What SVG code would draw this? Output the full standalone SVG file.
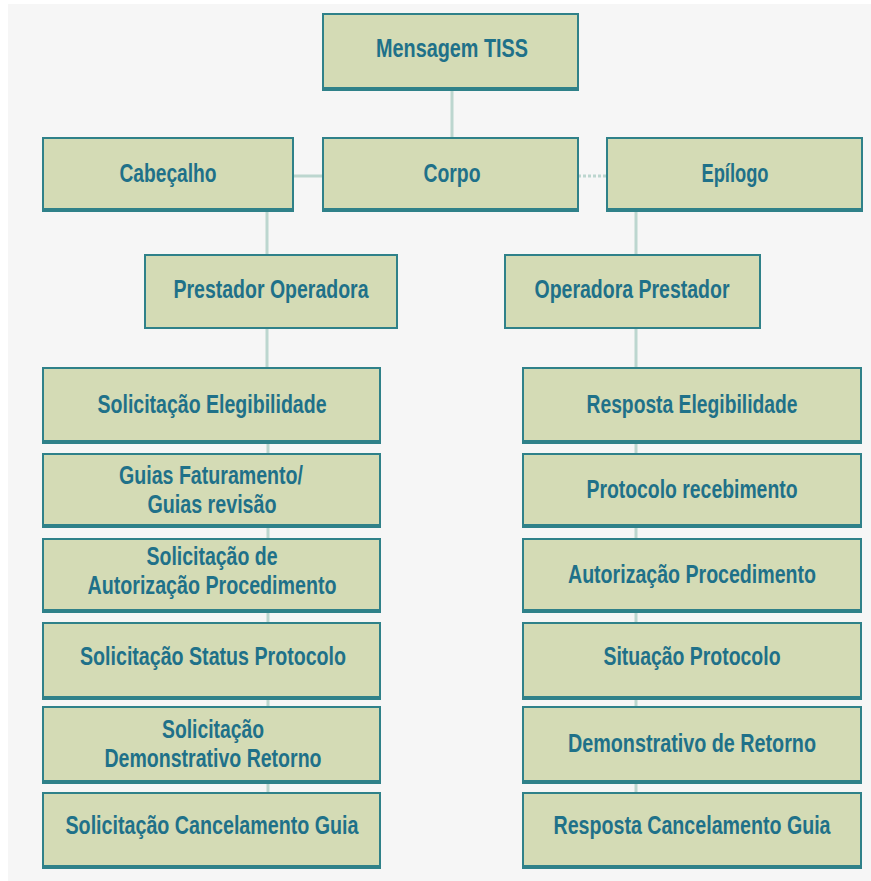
<svg xmlns="http://www.w3.org/2000/svg" width="871" height="881" viewBox="0 0 871 881">
<style>
.box{fill:#d4dbb5;stroke:#2f8189;stroke-width:2}
.sh{stroke:#2f8189;stroke-width:4}
.t{font-family:"Liberation Sans",Arial,sans-serif;font-size:25px;font-weight:bold;fill:#1f7189;text-anchor:middle}
.c{stroke:#bcd6cf;stroke-width:3;fill:none}
</style>
<rect x="0" y="0" width="871" height="881" fill="#ffffff"/>
<rect x="8" y="4" width="863" height="877" fill="#f6f6f6"/>
<g id="connectors">
<line class="c" x1="452" y1="90" x2="452" y2="138"/>
<line class="c" x1="293" y1="176" x2="323" y2="176"/>
<line class="c" x1="578" y1="176" x2="607" y2="176" stroke-dasharray="3 2"/>
<line class="c" x1="267" y1="211" x2="267" y2="255"/>
<line class="c" x1="636" y1="211" x2="636" y2="255"/>
<line class="c" x1="267" y1="328" x2="267" y2="368"/>
<line class="c" x1="636" y1="328" x2="636" y2="368"/>
<line class="c" x1="268" y1="443" x2="268" y2="454"/>
<line class="c" x1="268" y1="527" x2="268" y2="539"/>
<line class="c" x1="268" y1="612" x2="268" y2="623"/>
<line class="c" x1="268" y1="699" x2="268" y2="707"/>
<line class="c" x1="268" y1="783" x2="268" y2="793"/>
<line class="c" x1="636" y1="443" x2="636" y2="454"/>
<line class="c" x1="636" y1="527" x2="636" y2="539"/>
<line class="c" x1="636" y1="612" x2="636" y2="623"/>
<line class="c" x1="636" y1="699" x2="636" y2="707"/>
<line class="c" x1="636" y1="783" x2="636" y2="793"/>
</g>
<g id="mensagem"><rect class="box" x="323" y="14" width="255" height="76"/><line class="sh" x1="323" y1="89" x2="578" y2="89"/><text class="t" x="452" y="57" textLength="152" lengthAdjust="spacingAndGlyphs">Mensagem TISS</text></g>
<g id="cabecalho"><rect class="box" x="43" y="138" width="250" height="73"/><line class="sh" x1="43" y1="210" x2="293" y2="210"/><text class="t" x="168" y="182" textLength="97" lengthAdjust="spacingAndGlyphs">Cabeçalho</text></g>
<g id="corpo"><rect class="box" x="323" y="138" width="255" height="73"/><line class="sh" x1="323" y1="210" x2="578" y2="210"/><text class="t" x="452" y="182" textLength="57" lengthAdjust="spacingAndGlyphs">Corpo</text></g>
<g id="epilogo"><rect class="box" x="607" y="138" width="255" height="73"/><line class="sh" x1="607" y1="210" x2="862" y2="210"/><text class="t" x="735" y="182" textLength="67" lengthAdjust="spacingAndGlyphs">Epílogo</text></g>
<g id="prestador-operadora"><rect class="box" x="145" y="255" width="252" height="73"/><text class="t" x="271" y="298" textLength="195" lengthAdjust="spacingAndGlyphs">Prestador Operadora</text></g>
<g id="operadora-prestador"><rect class="box" x="505" y="255" width="255" height="73"/><text class="t" x="632" y="298" textLength="195" lengthAdjust="spacingAndGlyphs">Operadora Prestador</text></g>
<g id="sol-elegibilidade"><rect class="box" x="43" y="368" width="337" height="75"/><line class="sh" x1="43" y1="442" x2="380" y2="442"/><text class="t" x="212" y="413" textLength="229" lengthAdjust="spacingAndGlyphs">Solicitação Elegibilidade</text></g>
<g id="guias-faturamento"><rect class="box" x="43" y="454" width="337" height="73"/><line class="sh" x1="43" y1="526" x2="380" y2="526"/><text class="t" x="211" y="484" textLength="184" lengthAdjust="spacingAndGlyphs">Guias Faturamento/</text><text class="t" x="212" y="513" textLength="129" lengthAdjust="spacingAndGlyphs">Guias revisão</text></g>
<g id="sol-autorizacao"><rect class="box" x="43" y="539" width="337" height="73"/><line class="sh" x1="43" y1="611" x2="380" y2="611"/><text class="t" x="212" y="565" textLength="131" lengthAdjust="spacingAndGlyphs">Solicitação de</text><text class="t" x="212" y="594" textLength="249" lengthAdjust="spacingAndGlyphs">Autorização Procedimento</text></g>
<g id="sol-status"><rect class="box" x="43" y="623" width="337" height="76"/><line class="sh" x1="43" y1="698" x2="380" y2="698"/><text class="t" x="213" y="665" textLength="266" lengthAdjust="spacingAndGlyphs">Solicitação Status Protocolo</text></g>
<g id="sol-demonstrativo"><rect class="box" x="43" y="707" width="337" height="76"/><line class="sh" x1="43" y1="782" x2="380" y2="782"/><text class="t" x="213" y="738" textLength="102" lengthAdjust="spacingAndGlyphs">Solicitação</text><text class="t" x="213" y="767" textLength="217" lengthAdjust="spacingAndGlyphs">Demonstrativo Retorno</text></g>
<g id="sol-cancelamento"><rect class="box" x="43" y="793" width="337" height="75"/><line class="sh" x1="43" y1="867" x2="380" y2="867"/><text class="t" x="212" y="834" textLength="293" lengthAdjust="spacingAndGlyphs">Solicitação Cancelamento Guia</text></g>
<g id="resp-elegibilidade"><rect class="box" x="523" y="368" width="338" height="75"/><line class="sh" x1="523" y1="442" x2="861" y2="442"/><text class="t" x="692" y="413" textLength="211" lengthAdjust="spacingAndGlyphs">Resposta Elegibilidade</text></g>
<g id="protocolo-recebimento"><rect class="box" x="523" y="454" width="338" height="73"/><line class="sh" x1="523" y1="526" x2="861" y2="526"/><text class="t" x="692" y="498" textLength="211" lengthAdjust="spacingAndGlyphs">Protocolo recebimento</text></g>
<g id="autorizacao-procedimento"><rect class="box" x="523" y="539" width="338" height="73"/><line class="sh" x1="523" y1="611" x2="861" y2="611"/><text class="t" x="692" y="583" textLength="248" lengthAdjust="spacingAndGlyphs">Autorização Procedimento</text></g>
<g id="situacao-protocolo"><rect class="box" x="523" y="623" width="338" height="76"/><line class="sh" x1="523" y1="698" x2="861" y2="698"/><text class="t" x="692" y="665" textLength="177" lengthAdjust="spacingAndGlyphs">Situação Protocolo</text></g>
<g id="demonstrativo-retorno"><rect class="box" x="523" y="707" width="338" height="76"/><line class="sh" x1="523" y1="782" x2="861" y2="782"/><text class="t" x="692" y="752" textLength="248" lengthAdjust="spacingAndGlyphs">Demonstrativo de Retorno</text></g>
<g id="resp-cancelamento"><rect class="box" x="523" y="793" width="338" height="75"/><line class="sh" x1="523" y1="867" x2="861" y2="867"/><text class="t" x="692" y="834" textLength="277" lengthAdjust="spacingAndGlyphs">Resposta Cancelamento Guia</text></g>
</svg>
